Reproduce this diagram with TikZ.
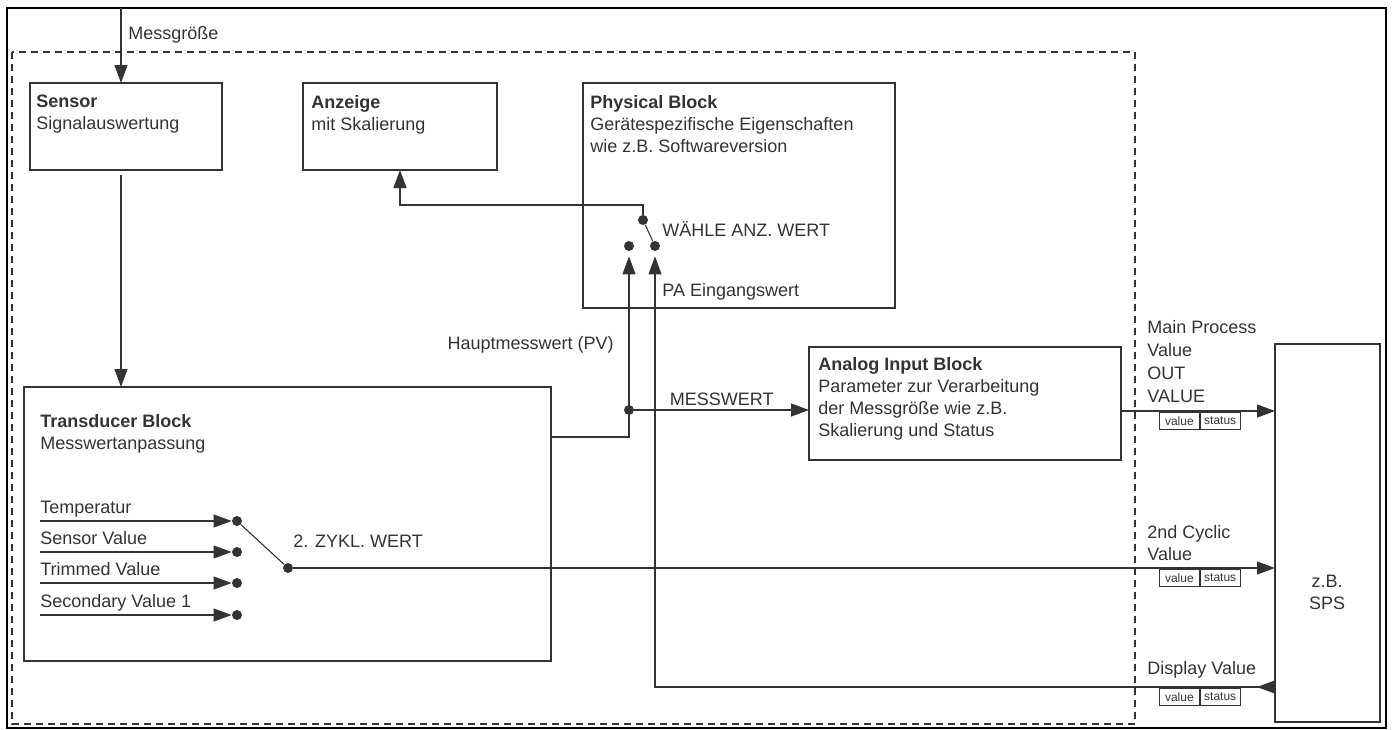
\documentclass[tikz,border=0pt]{standalone}
\usepackage{fontspec}
\setmainfont{Liberation Sans}
\usetikzlibrary{arrows.meta}

\definecolor{ink}{HTML}{333333}

\tikzset{
  block/.style={draw=ink, line width=0.9pt, anchor=north west, inner sep=0pt, outer sep=0pt},
  blocktext/.style={anchor=north west, align=left, inner sep=0pt, text=ink},
  lbl/.style={inner sep=0pt, text=ink},
  dot/.style={circle, fill=ink, inner sep=0pt, minimum size=5pt},
  wire/.style={draw=ink, line width=0.55pt},
  tip/.style={-{Triangle[length=9pt,width=6.5pt]}},
  vsbox/.style={draw=ink, line width=0.4pt, anchor=north west, minimum width=20pt,
    minimum height=8.5pt, inner sep=0pt, font=\fontsize{6}{7}\selectfont, text=ink},
}

\begin{document}
\begin{tikzpicture}[x=0.5pt,y=-0.5pt,font=\fontsize{9}{11}\selectfont]
\useasboundingbox (0,0) rectangle (1392,729);
\draw[line width=0.8pt] (7,8) rectangle (1386,728);
\draw[ink, line width=0.7pt, dash pattern=on 3.5pt off 2.5pt] (12,52) rectangle (1135,724);

% blocks
\node[block, minimum width=96pt, minimum height=43.5pt] (sensor) at (30,83) {};
\node[block, minimum width=97pt, minimum height=43.5pt] (anz) at (303,83) {};
\node[block, minimum width=156pt, minimum height=112.5pt] (phys) at (583,83) {};
\node[block, minimum width=263.5pt, minimum height=137pt] (tb) at (24,387) {};
\node[block, minimum width=156pt, minimum height=56.5pt] (aib) at (809,347) {};
\node[block, minimum width=52.5pt, minimum height=189pt] (sps) at (1275,344) {};

\node[blocktext] (sensortxt) at ([shift={(6,12)}]sensor.north west) {\textbf{Sensor}\\Signalauswertung};
\node[blocktext] (anztxt) at ([shift={(8,12)}]anz.north west) {\textbf{Anzeige}\\mit Skalierung};
\node[blocktext] (phystxt) at ([shift={(7,12)}]phys.north west)
  {\textbf{Physical Block}\\Gerätespezifische Eigenschaften\\wie z.B. Softwareversion};
\node[blocktext] (tbtxt) at ([shift={(16,27)}]tb.north west) {\textbf{Transducer Block}\\Messwertanpassung};
\node[blocktext] (aibtxt) at ([shift={(9,10)}]aib.north west)
  {\textbf{Analog Input Block}\\Parameter zur Verarbeitung\\der Messgröße wie z.B.\\Skalierung und Status};
\node[lbl, align=center] (spstxt) at (1327,592) {z.B.\\SPS};

% measured variable in
\coordinate (mg) at (121,8);
\draw[wire, tip] (mg) -- (sensor.north -| mg);
\node[lbl, anchor=base west] (mglbl) at (128,39) {Messgröße};
\draw[wire, tip, shorten <=2.5pt] (sensor.south -| mg) -- (tb.north -| mg);

% primary value and display selector
\node[dot] (msw) at (629,410) {};
\node[dot] (pvin) at (629,246) {};
\node[dot] (pain) at (655,246) {};
\node[dot] (sel) at (643,220) {};
\coordinate (pvout) at (tb.east |- 0,437);
\draw[wire, tip, shorten >=2.5pt] (pvout) -| (pvin);
\draw[wire, tip] (msw) -- (aib.west |- msw) node[lbl, midway, above=2pt] {MESSWERT};
\draw[wire] (sel) -- (pain);
\draw[wire, tip] (sel) -- ++(0,-15) -| (anz.south);
\node[lbl, anchor=base east] (pvlbl) at (614,349) {Hauptmesswert (PV)};
\node[lbl, anchor=base west] (sellbl) at (662,236) {WÄHLE ANZ. WERT};
\node[lbl, anchor=base west] (palbl) at (662,296) {PA Eingangswert};

% outputs to the controller
\coordinate (outv) at (aib.east |- 0,411);
\draw[wire, tip] (outv) -- (sps.west |- outv);
\node[lbl, anchor=south west, align=left, font=\fontsize{9}{11.5}\selectfont] (outlbl) at (1147,403)
  {Main Process\\Value\\OUT\\VALUE};

\node[dot] (zykl) at (288,568) {};
\draw[wire, tip] (zykl) -- (sps.west |- zykl);
\node[lbl, anchor=south west, align=left] (cyclbl) at (1147,561) {2nd Cyclic\\Value};
\node[lbl, anchor=west] (zykllbl) at (293,541) {2. ZYKL. WERT};

\coordinate (dispin) at (sps.west |- 0,687);
\draw[wire, tip, shorten >=2.5pt] (dispin) -| (pain);
\draw[ink, line width=0.55pt, tip] (dispin) -- ++(-18,0);
\node[lbl, anchor=base west] (displbl) at (1147,674) {Display Value};

\foreach \y/\n in {412/out, 569/cyc, 688/disp} {
  \node[vsbox] (\n-val) at (1159,\y) {value};
  \node[vsbox] (\n-st) at (\n-val.north east) {status};
}

% transducer inputs
\foreach \y/\txt [count=\i] in {521/Temperatur, 552/Sensor Value, 583/Trimmed Value, 615/Secondary Value 1} {
  \node[dot] (in\i) at (237,\y) {};
  \coordinate (src\i) at (40,\y);
  \node[lbl, anchor=base west] (inlbl\i) at (40,\y-8) {\txt};
  \draw[wire, tip] (src\i) -- (in\i);
}
\draw[wire] (in1) -- (zykl);
\end{tikzpicture}
\end{document}
